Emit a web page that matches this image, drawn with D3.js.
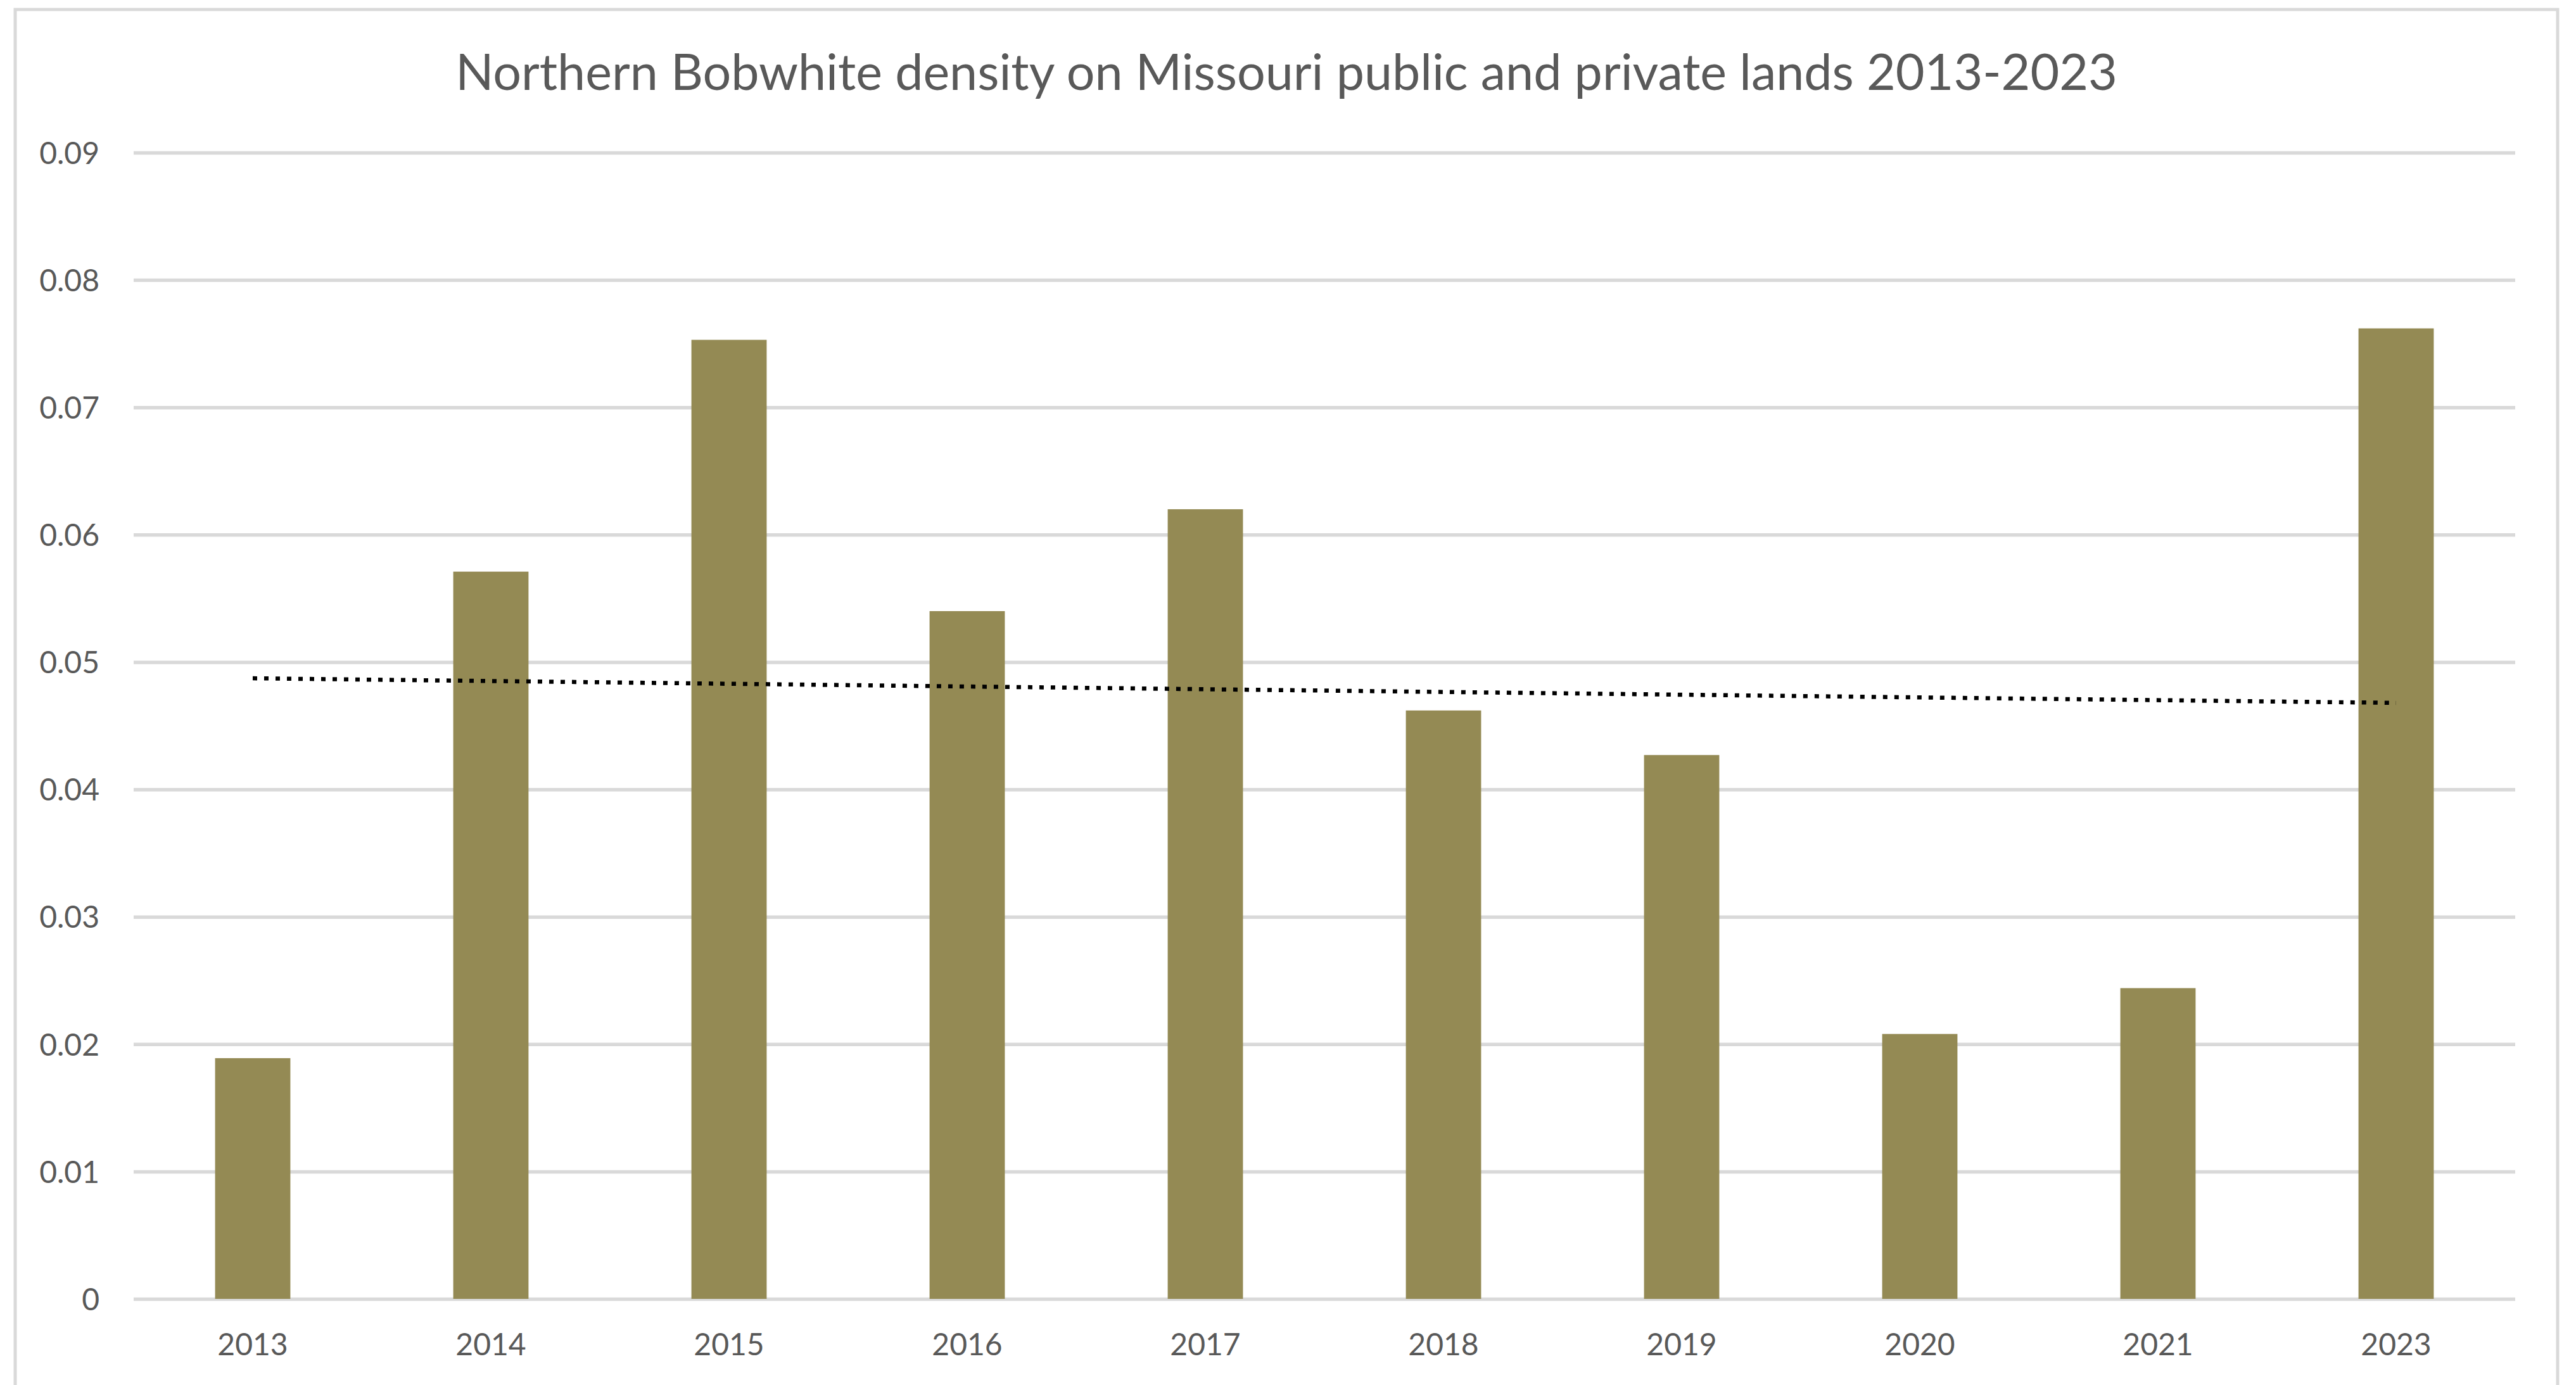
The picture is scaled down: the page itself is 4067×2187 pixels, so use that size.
<!DOCTYPE html>
<html>
<head>
<meta charset="utf-8">
<script src="https://cdn.jsdelivr.net/npm/d3@7"></script>
<style>
  html, body { margin: 0; padding: 0; background: #ffffff; }
  svg { display: block; }
  text { font-family: Lato, "Open Sans", sans-serif; fill: #595959; }
</style>
</head>
<body>
<svg id="chart" width="4067" height="2187"></svg>
<script>
// Northern Bobwhite density (birds per acre) by survey year
const years = ["2013", "2014", "2015", "2016", "2017", "2018", "2019", "2020", "2021", "2023"];
const density = [0.0189, 0.0571, 0.0753, 0.0540, 0.0620, 0.0462, 0.0427, 0.0208, 0.0244, 0.0762];
const yTicks = [0, 0.01, 0.02, 0.03, 0.04, 0.05, 0.06, 0.07, 0.08, 0.09];
const yTickLabels = ["0", "0.01", "0.02", "0.03", "0.04", "0.05", "0.06", "0.07", "0.08", "0.09"];
const title = "Northern Bobwhite density on Missouri public and private lands 2013-2023";

const W = 4067, H = 2187;
const plot = { left: 211, right: 3971, top: 241, bottom: 2051 };
const barFraction = 0.316;

const svg = d3.select("#chart");

// chart area frame
svg.append("rect")
  .attr("x", 24).attr("y", 15)
  .attr("width", 4014).attr("height", 2200)
  .attr("fill", "#ffffff")
  .attr("stroke", "#d9d9d9")
  .attr("stroke-width", 5);

const x = d3.scaleBand().domain(years).range([plot.left, plot.right]).padding(0);
const y = d3.scaleLinear().domain([0, 0.09]).range([plot.bottom, plot.top]);

// horizontal gridlines
const grid = svg.append("g")
  .attr("transform", `translate(${plot.left},0)`)
  .call(d3.axisLeft(y).tickValues(yTicks).tickSize(-(plot.right - plot.left)).tickFormat(""));
grid.select(".domain").remove();
grid.selectAll("line").attr("stroke", "#d9d9d9").attr("stroke-width", 5.5);

// y-axis labels
const yAxis = svg.append("g")
  .attr("transform", `translate(${plot.left - 54},0)`)
  .call(d3.axisLeft(y).tickValues(yTicks).tickSize(0)
    .tickFormat((d, i) => yTickLabels[i]));
yAxis.select(".domain").remove();
yAxis.selectAll("text")
  .attr("x", 0)
  .attr("dy", "0.36em")
  .style("font-size", "48px")
  .style("fill", "#595959");

// bars
const bw = x.bandwidth() * barFraction;
svg.append("g").selectAll("rect")
  .data(years.map((yr, i) => ({ yr, v: density[i] })))
  .join("rect")
  .attr("x", d => x(d.yr) + x.bandwidth() / 2 - bw / 2)
  .attr("width", bw)
  .attr("y", d => y(d.v))
  .attr("height", d => y(0) - y(d.v))
  .attr("fill", "#948a54");

// x-axis labels
const xAxis = svg.append("g")
  .attr("transform", `translate(0,${plot.bottom})`)
  .call(d3.axisBottom(x).tickSize(0).tickPadding(0));
xAxis.select(".domain").remove();
xAxis.selectAll("text")
  .attr("y", 89)
  .attr("dy", 0)
  .style("font-size", "48px")
  .style("fill", "#595959");

// linear trendline (least squares over category index)
const n = density.length;
const idx = d3.range(1, n + 1);
const mx = d3.mean(idx), my = d3.mean(density);
const slope = d3.sum(idx, (k, i) => (k - mx) * (density[i] - my)) / d3.sum(idx, k => (k - mx) * (k - mx));
const intercept = my - slope * mx;
const trend = [1, n].map(k => ({ yr: years[k - 1], v: intercept + slope * k }));

svg.append("path")
  .datum(trend)
  .attr("d", d3.line().x(d => x(d.yr) + x.bandwidth() / 2).y(d => y(d.v)))
  .attr("fill", "none")
  .attr("stroke", "#000000")
  .attr("stroke-width", 6.5)
  .attr("stroke-dasharray", "7 11");

// title
svg.append("text")
  .attr("x", 2031)
  .attr("y", 142)
  .attr("text-anchor", "middle")
  .style("font-size", "79px")
  .style("fill", "#595959")
  .text(title);
</script>
</body>
</html>
